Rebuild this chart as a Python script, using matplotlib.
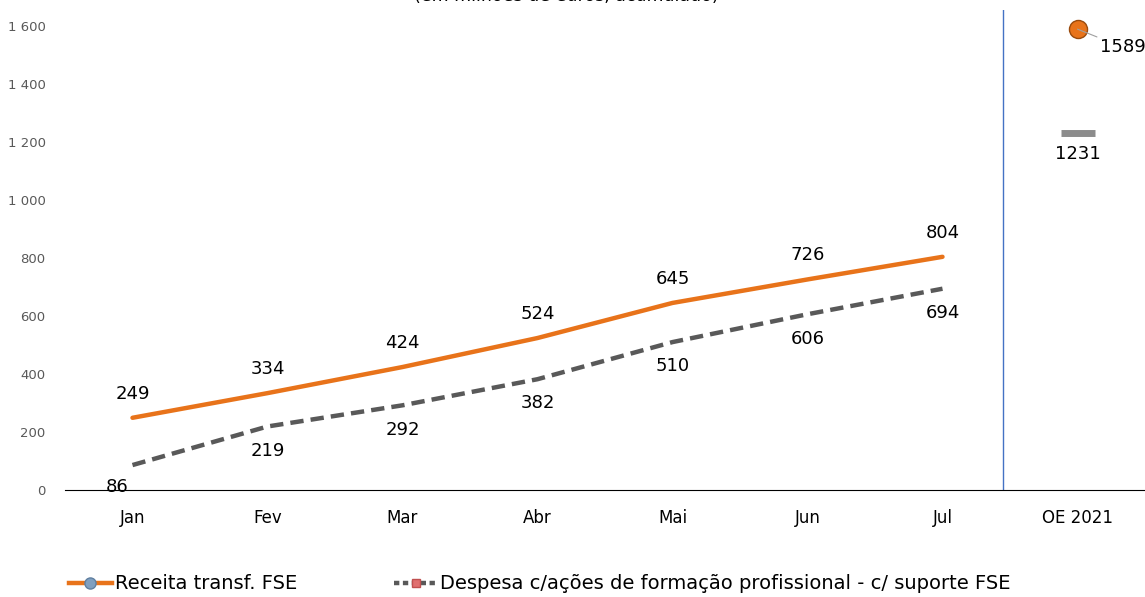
import numpy as np
import matplotlib.pyplot as plt

# Dados (milhões de euros, acumulado)
meses = ['Jan', 'Fev', 'Mar', 'Abr', 'Mai', 'Jun', 'Jul']
receita = [249, 334, 424, 524, 645, 726, 804]
despesa = [86, 219, 292, 382, 510, 606, 694]
oe_label = 'OE 2021'
oe_receita = 1589
oe_despesa = 1231
yticks = [0, 200, 400, 600, 800, 1000, 1200, 1400, 1600]

orange = '#E8731A'
grey = '#595959'
plt.rcParams['font.family'] = ['DejaVu Sans']

fig = plt.figure(figsize=(11.45, 5.97), dpi=100)
ax = fig.add_axes([65/1145, (597-490)/597, 1 - 65/1145, (490-10)/597])

x = np.arange(len(meses))
ax.plot(x, receita, color=orange, lw=3.2, solid_capstyle='round')
ax.plot(x, despesa, color=grey, lw=3.2, ls=(0, (3, 1.6)))

for i, v in enumerate(receita):
    ax.annotate(str(v), (x[i], v), xytext=(0, 11), textcoords='offset points',
                ha='center', va='bottom', fontsize=13)
for i, v in enumerate(despesa):
    if i == 0:
        ax.annotate(str(v), (x[i], v), xytext=(-11, -9), textcoords='offset points',
                    ha='center', va='top', fontsize=13)
    else:
        ax.annotate(str(v), (x[i], v), xytext=(0, -11), textcoords='offset points',
                    ha='center', va='top', fontsize=13)

# OE 2021
xo = len(meses)
ax.plot([xo], [oe_receita], marker='o', ms=13, color=orange, mec='#9a4a0c', mew=1)
ax.annotate(str(oe_receita), (xo, oe_receita), xytext=(16, -13), textcoords='offset points',
            ha='left', va='center', fontsize=13,
            arrowprops=dict(arrowstyle='-', color='#a0a0a0', lw=0.8, shrinkA=0, shrinkB=0))
ax.plot([xo], [oe_despesa], marker='_', ms=24, mew=5, color='#8c8c8c')
ax.annotate(str(oe_despesa), (xo, oe_despesa), xytext=(0, -9), textcoords='offset points',
            ha='center', va='top', fontsize=13)

ax.axvline(6.45, color='#4472C4', lw=1)

ax.set_xlim(-0.5, 7.5)
ax.set_ylim(0, 1655)
ax.set_xticks(list(x) + [xo])
ax.set_xticklabels(meses + [oe_label], fontsize=12)
ax.set_yticks(yticks)
ax.set_yticklabels([f'{t:,}'.replace(',', ' ') for t in yticks], fontsize=9.5, color='#595959')
ax.tick_params(axis='both', length=0)
ax.tick_params(axis='x', pad=14)
ax.tick_params(axis='y', pad=14)
for s in ['top', 'right', 'left']:
    ax.spines[s].set_visible(False)
ax.spines['bottom'].set_color('black')

fig.text(0.495, 1.0065, '(em milhões de euros, acumulado)', ha='center', va='center', fontsize=12.5)

h1, = ax.plot([], [], color=orange, lw=3.2, marker='o', mfc='#7f9fc0', mec='#5f7fa0', ms=8)
h2, = ax.plot([], [], color=grey, lw=3.2, ls=(0, (1.2, 0.8)), marker='s', mfc='#e07070', mec='#c05050', ms=6)
fig.legend([h1, h2], ['Receita transf. FSE', 'Despesa c/ações de formação profissional - c/ suporte FSE'],
           loc='center left', bbox_to_anchor=(0.045, 0.022), ncol=2, frameon=False, fontsize=14,
           handlelength=2.2, handletextpad=0.15, columnspacing=5.0)

fig.savefig('out.png', dpi=100)
